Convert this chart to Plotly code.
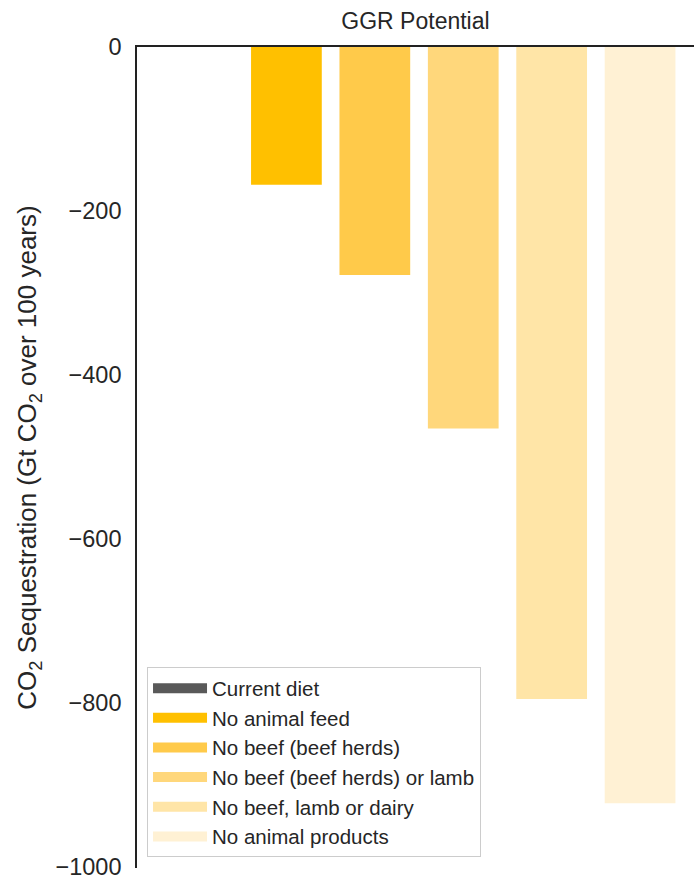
import plotly.graph_objects as go

# Dietary scenarios and their greenhouse-gas-removal potential
scenarios = [
    "Current diet",
    "No animal feed",
    "No beef (beef herds)",
    "No beef (beef herds) or lamb",
    "No beef, lamb or dairy",
    "No animal products",
]
sequestration = [0, -168, -278, -465, -795, -922]  # Gt CO2 over 100 years
colors = ["#595959", "#FFC000", "#FFCA4A", "#FFD77B", "#FFE5A7", "#FFF1D4"]
y_ticks = [0, -200, -400, -600, -800, -1000]

FONT = "Liberation Sans, Arial, Helvetica, sans-serif"
INK = "#262626"

fig = go.Figure()

positions = list(range(len(scenarios)))
for i, (name, val, col) in enumerate(zip(scenarios, sequestration, colors)):
    fig.add_trace(go.Bar(
        x=[positions[i]], y=[val], width=0.8, name=name,
        marker=dict(color=col, line=dict(width=0)),
        showlegend=False, hoverinfo="name+y",
    ))

# Wide legend swatches drawn as thick line samples
for name, col in zip(scenarios, colors):
    fig.add_trace(go.Scatter(
        x=[None], y=[None], mode="lines", name=name,
        line=dict(color=col, width=15), hoverinfo="skip",
    ))

fig.update_layout(
    width=694, height=876,
    margin=dict(l=137, r=0, t=47, b=8, pad=0),
    plot_bgcolor="white", paper_bgcolor="white",
    font=dict(family=FONT, color=INK, size=24),
    barmode="overlay",
    title=dict(
        text="GGR Potential", x=0.5, xref="paper", xanchor="center",
        y=1, yref="paper", yanchor="bottom", pad=dict(b=18),
        font=dict(size=23, color=INK, family=FONT),
    ),
    xaxis=dict(
        range=[-0.69, 5.61], side="top", showline=True, linecolor="#222222",
        linewidth=1.6, showgrid=False, zeroline=False, showticklabels=False,
        ticks="", fixedrange=True,
    ),
    yaxis=dict(
        range=[-1001, 0], tickvals=y_ticks,
        ticktext=[("\u2212" + str(abs(v))) if v < 0 else str(v) for v in y_ticks],
        showline=True, linecolor="#222222", linewidth=1.6,
        showgrid=False, zeroline=False, ticks="", ticklabelstandoff=9,
        ticklabeloverflow="allow",
        tickfont=dict(size=23.5, color=INK, family=FONT),
        title=dict(
            text="CO<sub>2</sub> Sequestration (Gt CO<sub>2</sub> over 100 years)",
            font=dict(size=26, color=INK, family=FONT), standoff=11,
        ),
        automargin=False,
    ),
    legend=dict(
        x=0.018, y=0.013, xanchor="left", yanchor="bottom",
        bgcolor="rgba(255,255,255,0.85)", bordercolor="#CCCCCC", borderwidth=1,
        font=dict(size=20.5, color=INK, family=FONT),
        itemwidth=54, tracegroupgap=0,
    ),
)

fig.write_html("out.html")
